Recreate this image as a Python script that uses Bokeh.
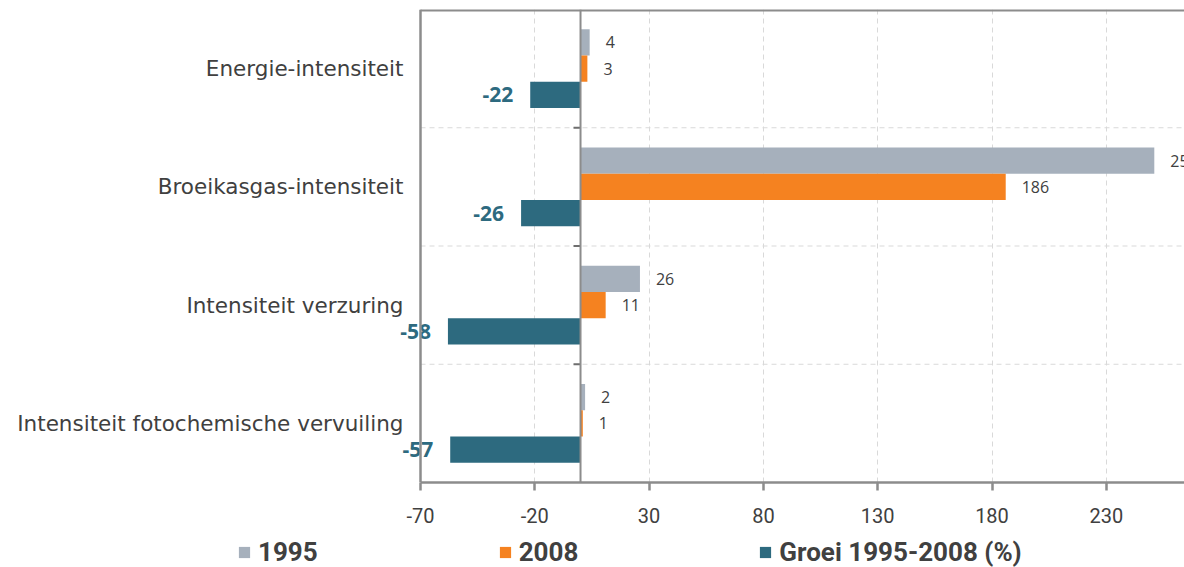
from bokeh.plotting import figure
from bokeh.models import (Range1d, FixedTicker, Span, Legend, LegendItem,
                          ColumnDataSource)
from bokeh.layouts import column
from bokeh.core.properties import value
from bokeh.embed import file_html
from bokeh.resources import INLINE

categories = ["Energie-intensiteit", "Broeikasgas-intensiteit",
              "Intensiteit verzuring", "Intensiteit fotochemische vervuiling"]
v1995 = [4, 251, 26, 2]
v2008 = [3, 186, 11, 1]
growth = [-22, -26, -58, -57]
x_ticks = [-70, -20, 30, 80, 130, 180, 230]
series_names = ["1995", "2008", "Groei 1995-2008 (%)"]

C1995 = "#a6b0bc"
C2008 = "#f58220"
CGROEI = "#2d6a7f"
AXIS = "#8c8c8c"
TXT = "#404040"
GRID = "#d9d9d9"

W = 1184
n = len(categories)
ypos = [n - i for i in range(n)]
dividers = [y + 0.5 for y in ypos[1:]]
off = 0.2225
px_per_unit = 2.286
frame_left_px = 420
x_min = x_ticks[0]
x_start = x_min - frame_left_px / px_per_unit
x_end = x_min + (W - frame_left_px) / px_per_unit

src = ColumnDataSource(dict(
    y=ypos,
    y1=[y + off for y in ypos],
    y3=[y - off for y in ypos],
    v1995=v1995, v2008=v2008, growth=growth,
    cat=categories,
    cx=[x_min] * n,
    l1995=[str(v) for v in v1995],
    l2008=[str(v) for v in v2008],
    lgrowth=[str(v) for v in growth],
))

p = figure(width=W, height=537,
           x_range=Range1d(x_start, x_end), y_range=Range1d(0.5, n + 0.5),
           output_backend="svg", toolbar_location=None,
           y_axis_location=None,
           min_border_left=0, min_border_right=0,
           min_border_top=9, min_border_bottom=55)
p.outline_line_color = None
p.background_fill_color = "white"
p.border_fill_color = "white"

# grids
p.xgrid.ticker = FixedTicker(ticks=x_ticks)
p.xgrid.grid_line_color = GRID
p.xgrid.grid_line_dash = "5 4"
p.xgrid.grid_line_width = 1
p.ygrid.visible = False
p.segment(x0=x_min, x1=x_end, y0=dividers, y1=dividers,
          line_color=GRID, line_dash="5 4", line_width=1)

r1 = p.hbar(y="y1", right="v1995", left=0, height=off, source=src,
            fill_color=C1995, line_color=None)
r2 = p.hbar(y="y", right="v2008", left=0, height=off, source=src,
            fill_color=C2008, line_color=None)
r3 = p.hbar(y="y3", right="growth", left=0, height=off, source=src,
            fill_color=CGROEI, line_color=None)

p.text(x="v1995", y="y1", text="l1995", source=src, x_offset=16,
       text_align="left", text_baseline="middle", text_color=TXT,
       text_font=value("Open Sans"), text_font_size="16px")
p.text(x="v2008", y="y", text="l2008", source=src, x_offset=16,
       text_align="left", text_baseline="middle", text_color=TXT,
       text_font=value("Open Sans"), text_font_size="16px")
p.text(x="growth", y="y3", text="lgrowth", source=src, x_offset=-17,
       text_align="right", text_baseline="middle", text_color=CGROEI,
       text_font=value("Open Sans"), text_font_style="bold",
       text_font_size="21px")

# category labels
p.text(x="cx", y="y", text="cat", source=src, x_offset=-17,
       text_align="right", text_baseline="middle", text_color=TXT,
       text_font=value("DejaVu Sans"), text_font_size="21.5px")

# left border, top border, zero line and its small category ticks
p.add_layout(Span(location=x_min, dimension="height", line_color=AXIS,
                  line_width=2.5))
p.segment(x0=x_min, x1=x_end, y0=n + 0.5, y1=n + 0.5,
          line_color=AXIS, line_width=4)
p.add_layout(Span(location=0, dimension="height", line_color=AXIS,
                  line_width=2))
p.segment(x0=-7 / px_per_unit, x1=0, y0=dividers, y1=dividers,
          line_color="#6e6e6e", line_width=2)

# x axis
xa = p.xaxis[0]
xa.ticker = FixedTicker(ticks=x_ticks)
xa.major_label_overrides = {t: str(t) for t in x_ticks}
xa.bounds = (x_min, x_end)
xa.axis_line_color = AXIS
xa.axis_line_width = 2.5
xa.major_tick_line_color = AXIS
xa.major_tick_line_width = 2.5
xa.major_tick_out = 8
xa.major_tick_in = 0
xa.minor_tick_line_color = None
xa.major_label_text_font = "Roboto"
xa.major_label_text_font_size = "20px"
xa.major_label_text_color = TXT
xa.major_label_standoff = 17

# legend in its own strip below (proxy glyphs lie outside the strip's view)
lf = figure(width=W, height=30, x_range=Range1d(0, 1), y_range=Range1d(0, 1),
            output_backend="svg", toolbar_location=None,
            x_axis_location=None, y_axis_location=None, min_border=0)
lf.outline_line_color = None
lf.grid.visible = False
lr = [lf.hbar(y=[-5], left=[-5], right=[-4], height=0.5, fill_color=c,
              line_color=None)
      for c in (C1995, C2008, CGROEI)]
legend = Legend(items=[LegendItem(label=s, renderers=[r])
                       for s, r in zip(series_names, lr)],
                location=(237, 0), orientation="horizontal",
                spacing=180, glyph_width=14, glyph_height=14,
                label_standoff=7, padding=0, margin=0,
                background_fill_alpha=0, border_line_color=None,
                label_text_font="Roboto", label_text_font_style="bold",
                label_text_font_size="26px", label_text_color=TXT)
lf.add_layout(legend)

layout = column(p, lf, spacing=0)
open("out.html", "w").write(file_html(layout, INLINE))
